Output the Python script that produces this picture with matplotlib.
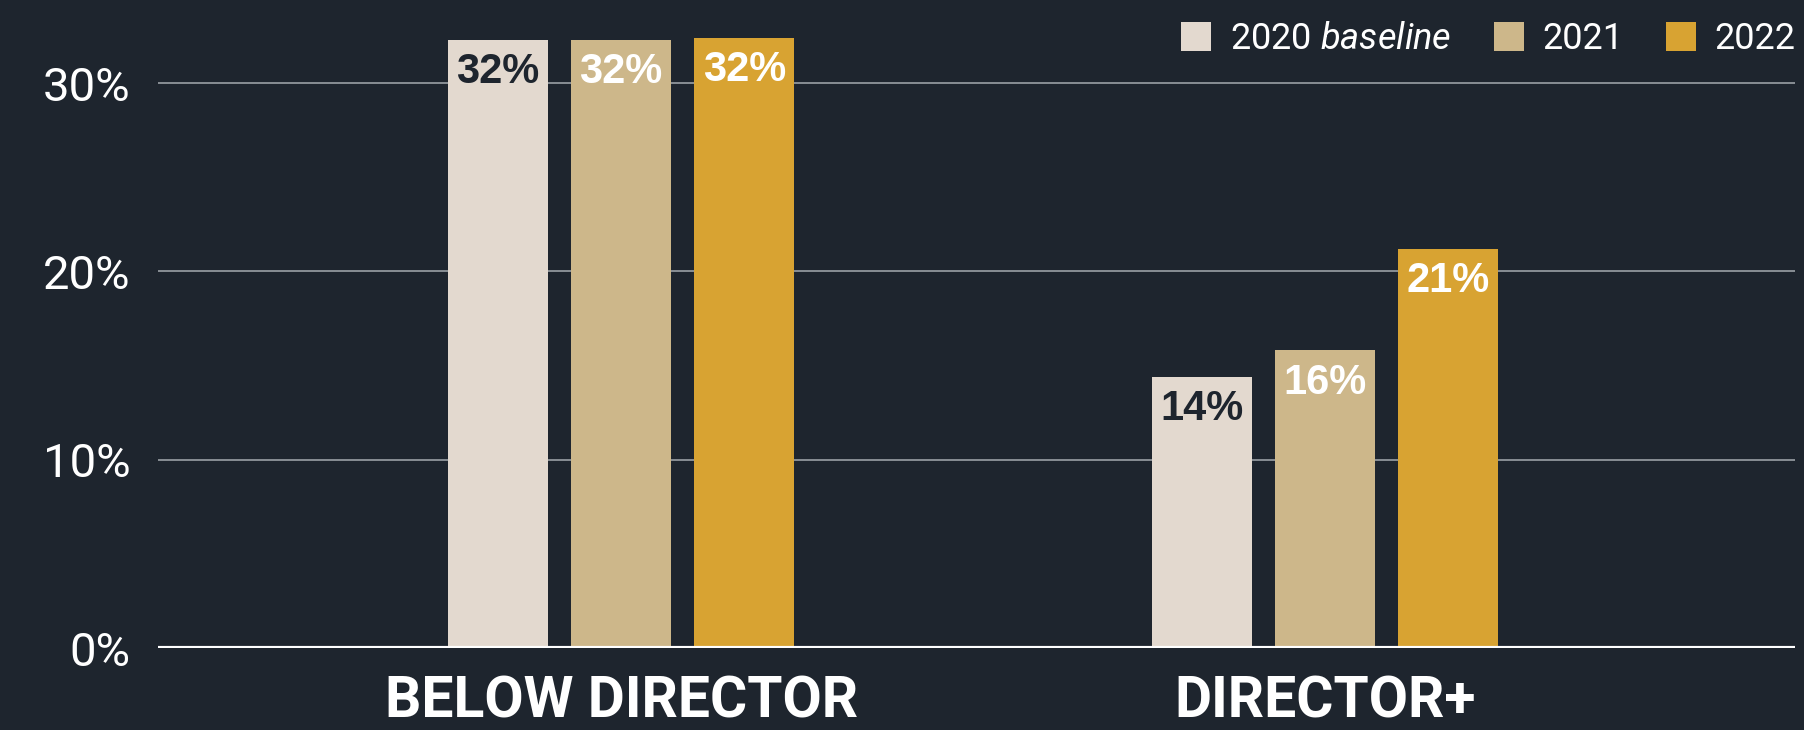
import numpy as np
import matplotlib
matplotlib.use("Agg")
import matplotlib.pyplot as plt
from matplotlib import font_manager

# data
categories = ["BELOW DIRECTOR", "DIRECTOR+"]
series = ["2020 baseline", "2021", "2022"]
values_2020 = [32.3, 14.4]
values_2021 = [32.3, 15.8]
values_2022 = [32.4, 21.2]
bar_labels_2020 = ["32%", "14%"]
bar_labels_2021 = ["32%", "16%"]
bar_labels_2022 = ["32%", "21%"]
yticks = [0, 10, 20, 30]
ytick_labels = ["0%", "10%", "20%", "30%"]

bg = "#1e252e"
colors = ["#e3d9cf", "#cdb78a", "#d8a332"]
label_colors = [bg, "white", "white"]

names = {f.name for f in font_manager.fontManager.ttflist}
def pick(*fams):
    for f in fams:
        if f in names:
            return f
    return "DejaVu Sans"

narrow = pick("Liberation Sans Narrow", "Roboto", "DejaVu Sans")
plt.rcParams["mathtext.fontset"] = "custom"
plt.rcParams["mathtext.it"] = narrow + ":italic"
plt.rcParams["mathtext.rm"] = narrow

fig = plt.figure(figsize=(18.04, 7.30), dpi=100, facecolor=bg)
ax = fig.add_axes([158 / 1804, 82 / 730, 1637 / 1804, 648 / 730])
ax.set_facecolor(bg)

x = np.arange(len(categories))
width = 0.142
offsets = [-0.175, 0, 0.175]
all_vals = [values_2020, values_2021, values_2022]
all_labels = [bar_labels_2020, bar_labels_2021, bar_labels_2022]
legend_names = ["2020 $\\it{baseline}$", "2021", "2022"]

for i in range(3):
    bars = ax.bar(x + offsets[i], all_vals[i], width, color=colors[i],
                  label=legend_names[i], zorder=3)
    for b, lab in zip(bars, all_labels[i]):
        ax.annotate(lab, (b.get_x() + b.get_width() / 2, b.get_height()),
                    xytext=(0, -9), textcoords="offset points",
                    ha="center", va="top", fontsize=30, fontweight="bold",
                    family=pick("Liberation Sans", "DejaVu Sans"),
                    color=label_colors[i], zorder=4)

ax.set_ylim(0, 34.41)
ax.set_xlim(-0.658, 1.668)
ax.set_yticks(yticks)
ax.set_yticklabels(ytick_labels, fontsize=34, color="white",
                   family=pick("Roboto", "DejaVu Sans"))
ax.set_xticks(x)
ax.set_xticklabels(categories, fontsize=41, color="white",
                   family=narrow, fontweight="bold")
ax.tick_params(axis="y", length=0, pad=20)
ax.tick_params(axis="x", length=0, pad=19)
for s in ax.spines.values():
    s.set_visible(False)
ax.grid(axis="y", color="#9aa0a6", linewidth=1.2, zorder=0)
ax.axhline(0, color="white", linewidth=3, zorder=5)

leg = ax.legend(loc="upper right", bbox_to_anchor=(1795 / 1804, 1 - 21 / 730),
                bbox_transform=fig.transFigure, ncol=3, frameon=False,
                handlelength=0.83, handleheight=0.83,
                handletextpad=0.5, columnspacing=1.19, borderpad=0,
                borderaxespad=0, prop={"family": narrow, "size": 26})
for t in leg.get_texts():
    t.set_color("white")

fig.savefig("out.png", dpi=100, facecolor=bg)
